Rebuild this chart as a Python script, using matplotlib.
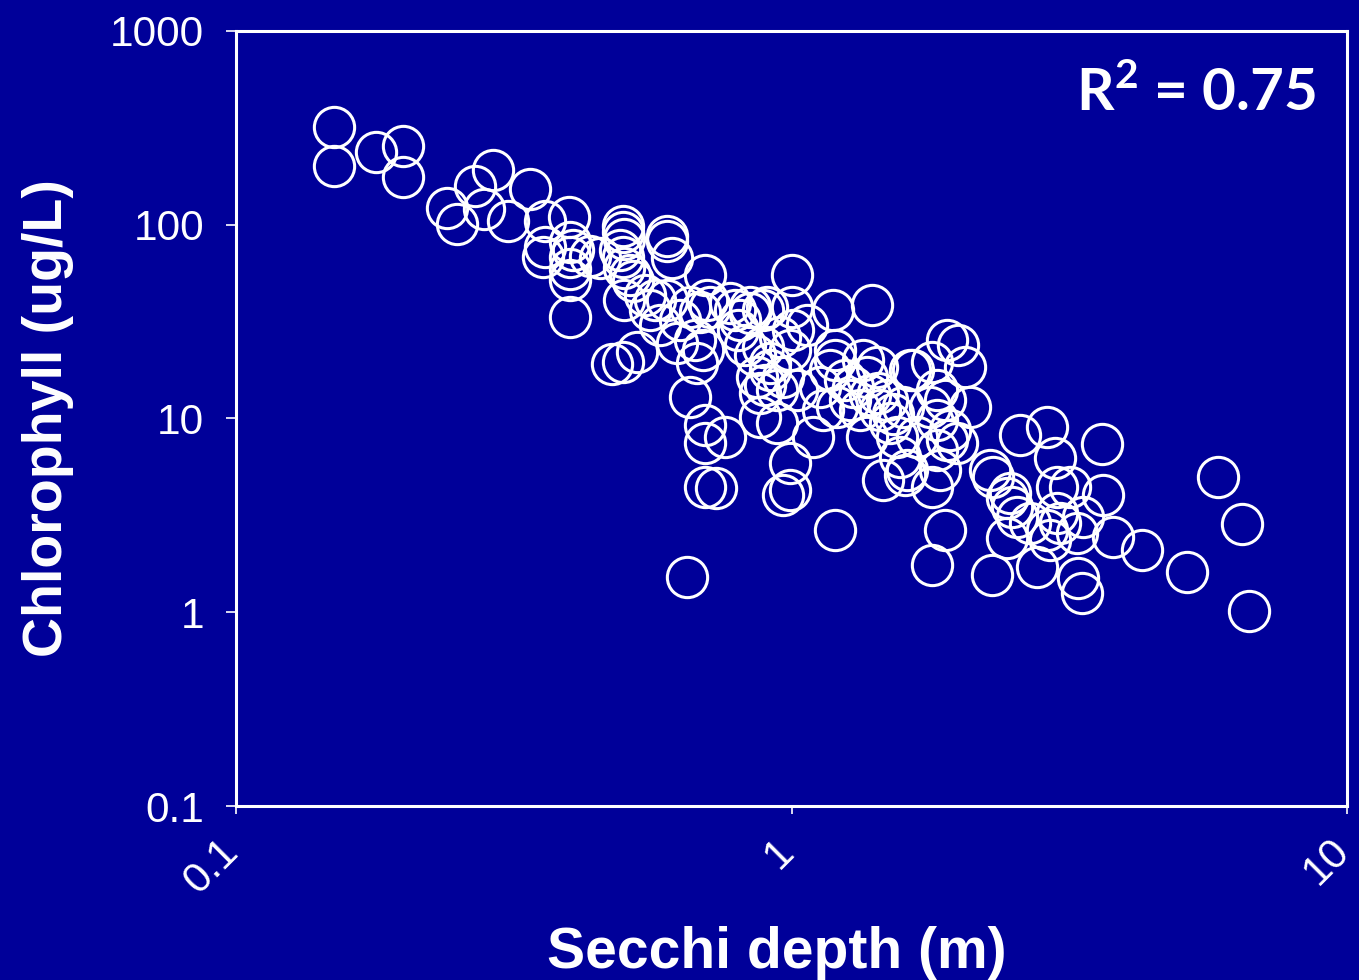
import numpy as np
import matplotlib
matplotlib.use("Agg")
import matplotlib.pyplot as plt
import matplotlib.transforms as mtransforms

# Secchi depth (m) and chlorophyll (ug/L)
secchi = [
    0.150, 0.150, 0.179, 0.200, 0.200, 0.240, 0.250, 0.269, 0.290, 0.280,
    0.309, 0.338, 0.360, 0.360, 0.357,
    0.398, 0.400, 0.405, 0.400, 0.400, 0.400, 0.400, 0.434, 0.452,
    0.497, 0.497, 0.500, 0.491, 0.497, 0.500, 0.500, 0.518, 0.512, 0.475,
    0.497, 0.527,
    0.545, 0.568, 0.556, 0.580, 0.597, 0.597, 0.609, 0.597, 0.630, 0.622,
    0.657, 0.670, 0.676, 0.693, 0.700, 0.705, 0.713, 0.684, 0.657, 0.700,
    0.700, 0.759, 0.700, 0.731, 0.648,
    0.775, 0.791, 0.842, 0.808, 0.801, 0.825, 0.842, 0.903, 0.889, 0.889,
    0.915, 0.867, 0.965, 0.942, 1.023, 0.878, 0.994, 0.953, 1.006, 1.066,
    1.002, 1.000, 0.878, 0.942, 0.994, 0.994, 0.965, 1.093, 1.139, 1.198,
    0.915, 0.896, 0.860,
    1.188, 1.396, 1.198, 1.198, 1.173, 1.125, 1.345, 1.368, 1.425, 1.290,
    1.431, 1.208, 1.328, 1.368, 1.485, 1.588, 1.634, 1.504, 1.549, 1.461,
    1.568, 1.614, 1.601, 1.385, 1.443, 1.274, 1.248, 1.523,
    1.791, 1.905, 1.994, 2.053, 1.655, 1.828, 2.096, 1.776, 1.682, 1.828,
    1.929, 1.986, 1.828, 1.791, 1.905, 1.851, 1.890, 1.791, 1.890, 2.277,
    2.306, 2.474, 2.546, 2.578, 2.296,
    2.884, 2.981, 3.622, 3.006, 3.172, 3.637, 2.443, 2.494, 2.687, 2.443,
    2.884, 3.006, 3.348, 3.265, 2.767, 3.279, 3.334, 3.790, 4.275, 5.152,
    5.857, 6.470, 6.661, 2.920, 3.044,
]
chl = [
    320, 202, 238, 256, 177, 122, 101, 159, 192, 120,
    105, 153, 104, 77, 68,
    109, 81, 74, 68, 59, 52, 33.5, 69, 67.5,
    99, 92, 84, 74, 68, 60, 41, 51, 55, 19.2,
    19.6, 22.1,
    43.5, 41, 36.4, 30.5, 88, 82, 67.5, 41, 32.3, 24.6,
    37.7, 25.5, 19.4, 22.6, 55, 41, 37.7, 35.6, 12.9, 9.3,
    7.5, 8.0, 4.44, 4.39, 1.52,
    39.6, 36.4, 35.1, 32.3, 28.7, 24.0, 37.7, 37.7, 36.4, 23.5,
    19.4, 16.4, 16.4, 14.1, 14.1, 13.6, 22.6, 26.4, 28.7, 30.5,
    37.7, 55, 10.2, 9.5, 5.9, 4.29, 4.04, 8.05, 11.1, 2.67,
    17.8, 14.9, 21.3,
    36.4, 38.6, 22.6, 20.1, 17.8, 14.6, 20.1, 16.4, 18.5, 14.6,
    13.6, 11.5, 11.1, 8.05, 12.5, 11.5, 17.8, 9.5, 8.05, 4.83,
    6.35, 5.44, 5.13, 13.3, 11.1, 12.5, 15.8, 10.5,
    19.6, 25.5, 24.0, 18.5, 17.8, 14.1, 11.5, 11.5, 8.05, 9.85,
    8.75, 7.5, 6.9, 4.44, 7.77, 5.44, 2.67, 1.76, 12.5, 5.44,
    5.0, 4.14, 3.11, 8.24, 1.56,
    9.07, 6.27, 7.41, 4.44, 4.44, 4.04, 3.90, 3.50, 2.90, 2.42,
    2.67, 3.26, 3.11, 2.57, 1.72, 1.51, 1.26, 2.45, 2.10, 1.62,
    5.0, 2.86, 1.02, 2.37, 2.90,
]
r2_text = r"R$^{\mathbf{2}}$ = 0.75"
x_ticks = [0.1, 1, 10]
x_labels = ["0.1", "1", "10"]
y_ticks = [0.1, 1, 10, 100, 1000]
y_labels = ["0.1", "1", "10", "100", "1000"]

bg = "#000099"
plt.rcParams["font.family"] = ["Liberation Sans", "DejaVu Sans"]
plt.rcParams["mathtext.fontset"] = "custom"
plt.rcParams["mathtext.bf"] = "Lato:bold"
plt.rcParams["mathtext.rm"] = "Lato:bold"

fig = plt.figure(figsize=(13.59, 9.80), dpi=100, facecolor=bg)
ax = fig.add_axes([236 / 1359, 1 - 806 / 980, (1347 - 236) / 1359, (806 - 31) / 980])
ax.set_facecolor(bg)

ax.plot(secchi, chl, linestyle="none", marker="o", markersize=29,
        markerfacecolor="none", markeredgecolor="white", markeredgewidth=2.2,
        clip_on=False)

ax.set_xscale("log")
ax.set_yscale("log")
ax.set_xlim(0.1, 10)
ax.set_ylim(0.1, 1000)
ax.minorticks_off()
ax.set_xticks(x_ticks)
ax.set_xticklabels(x_labels)
ax.set_yticks(y_ticks)
ax.set_yticklabels(y_labels)

for s in ax.spines.values():
    s.set_color("white")
    s.set_linewidth(2.2)

ax.tick_params(axis="y", colors="white", labelsize=30.5, length=7, width=1.2,
               pad=16, direction="out")
ax.tick_params(axis="x", colors="white", labelsize=30.5, length=6, width=1.2,
               pad=12, direction="out")
offset = mtransforms.ScaledTranslation(10 / 100, 0, fig.dpi_scale_trans)
for lab in ax.get_xticklabels():
    lab.set_rotation(45)
    lab.set_ha("right")
    lab.set_va("top")
    lab.set_transform(lab.get_transform() + offset)

ax.set_xlabel("Secchi depth (m)", color="white", fontsize=41,
              fontweight="bold", labelpad=18)
ax.xaxis.label.set_x(0.487)
ax.set_ylabel("Chlorophyll (ug/L)", color="white", fontsize=40,
              fontweight="bold", labelpad=26)

ax.text(0.972, 0.897, r2_text, transform=ax.transAxes, ha="right",
        va="baseline", color="white", fontsize=42, fontweight="bold",
        family=["Lato", "DejaVu Sans"])

fig.savefig("out.png", dpi=100, facecolor=bg)
